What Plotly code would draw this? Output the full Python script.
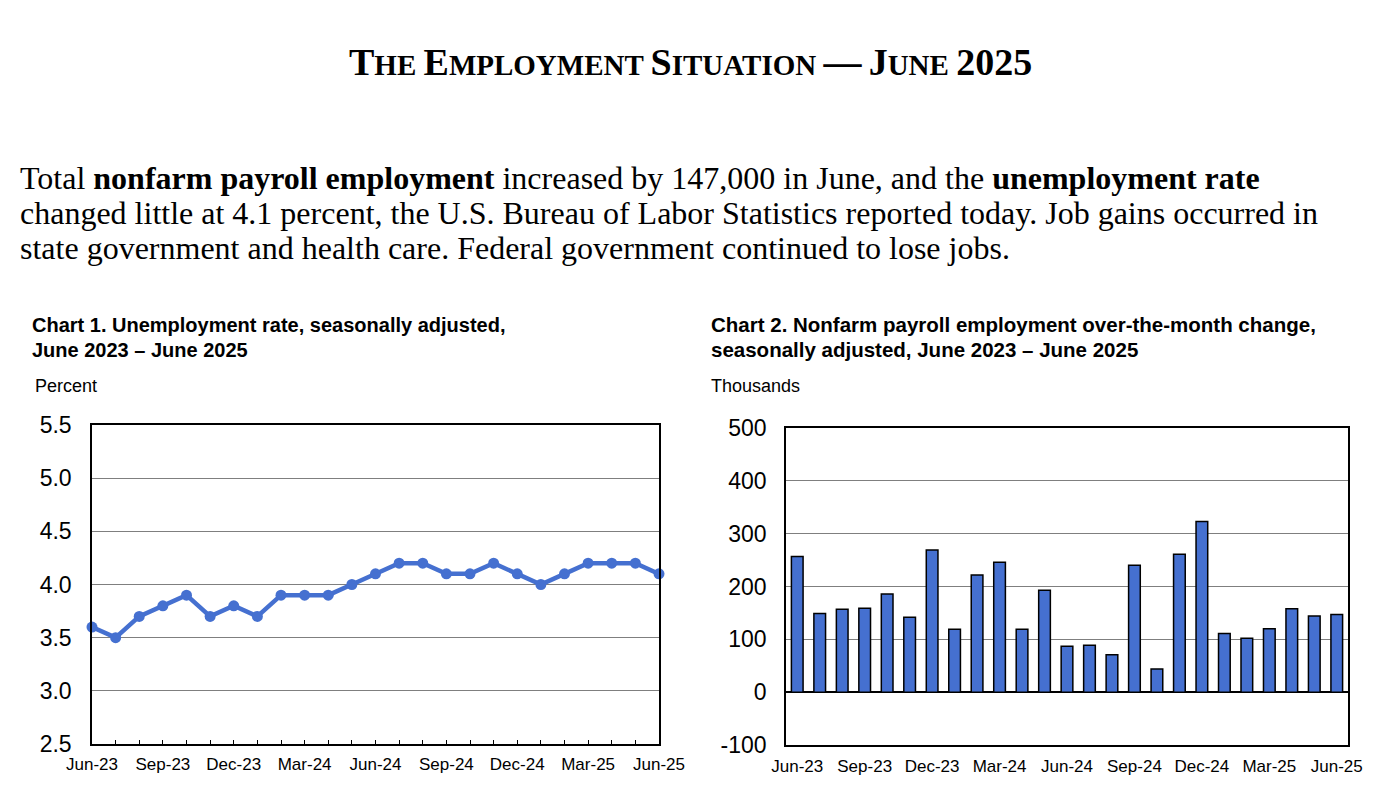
import plotly.graph_objects as go

months = ["Jun-23", "Jul-23", "Aug-23", "Sep-23", "Oct-23", "Nov-23", "Dec-23",
          "Jan-24", "Feb-24", "Mar-24", "Apr-24", "May-24", "Jun-24", "Jul-24",
          "Aug-24", "Sep-24", "Oct-24", "Nov-24", "Dec-24", "Jan-25", "Feb-25",
          "Mar-25", "Apr-25", "May-25", "Jun-25"]
unemployment_rate = [3.6, 3.5, 3.7, 3.8, 3.9, 3.7, 3.8, 3.7, 3.9, 3.9, 3.9, 4.0, 4.1,
                     4.2, 4.2, 4.1, 4.1, 4.2, 4.1, 4.0, 4.1, 4.2, 4.2, 4.2, 4.1]
payroll_change = [257, 149, 157, 159, 186, 142, 269, 119, 222, 246, 119, 193, 87,
                  89, 71, 240, 44, 261, 323, 111, 102, 120, 158, 144, 147]
tick_labels = [m if i % 3 == 0 else "" for i, m in enumerate(months)]
label_months = [m for i, m in enumerate(months) if i % 3 == 0]
rate_ticks = [2.5, 3.0, 3.5, 4.0, 4.5, 5.0, 5.5]
rate_tick_text = ["2.5", "3.0", "3.5", "4.0", "4.5", "5.0", "5.5"]
payroll_ticks = [-100, 0, 100, 200, 300, 400, 500]
payroll_tick_text = ["-100", "0", "100", "200", "300", "400", "500"]

BLUE = "#4570D0"
SANS = "Liberation Sans, Arial, sans-serif"
SERIF = "Liberation Serif, Times New Roman, serif"

fig = go.Figure()

fig.add_trace(go.Scatter(
    x=months, y=unemployment_rate, mode="lines+markers",
    line=dict(color=BLUE, width=4.5), marker=dict(color=BLUE, size=11),
    cliponaxis=False, xaxis="x", yaxis="y", showlegend=False))

fig.add_trace(go.Bar(
    x=months, y=payroll_change, marker=dict(color=BLUE, line=dict(color="black", width=1.5)),
    xaxis="x2", yaxis="y2", showlegend=False))

W, H = 1400, 808
def px_x(a, b):
    return [a / W, b / W]
def px_y(top, bottom):
    return [1 - bottom / H, 1 - top / H]

common = dict(automargin=False)
XT = dict(family=SANS, size=17, color="black")
YT = dict(family=SANS, size=23, color="black")
fig.update_layout(
    width=W, height=H,
    margin=dict(l=0, r=0, t=0, b=0, pad=0, autoexpand=False),
    paper_bgcolor="white", plot_bgcolor="white",
    bargap=0.48,
    xaxis=dict(domain=px_x(92, 659), type="category", range=[0, 24],
               tickvals=months, ticktext=tick_labels, ticks="inside", ticklen=4,
               tickcolor="black", showline=True, linecolor="black", linewidth=1.5,
               mirror=True, showgrid=False, tickfont=XT, ticklabelstandoff=4,
               anchor="y", **common),
    yaxis=dict(domain=px_y(425, 744), range=[2.5, 5.5], tickvals=rate_ticks,
               ticktext=rate_tick_text,
               showline=True, linecolor="black", linewidth=1.5, mirror=True,
               showgrid=True, gridcolor="#7f7f7f", gridwidth=1, zeroline=False,
               ticks="", ticklabelstandoff=14, tickfont=YT, anchor="x", **common),
    xaxis2=dict(domain=px_x(786, 1348), type="category", range=[-0.5, 24.5],
                tickvals=label_months, ticktext=label_months, ticks="",
                showline=True, linecolor="black", linewidth=1.5, mirror=True,
                showgrid=False, tickfont=XT, ticklabelstandoff=5,
                anchor="y2", **common),
    yaxis2=dict(domain=px_y(428, 745), range=[-100, 500], tickvals=payroll_ticks,
                ticktext=payroll_tick_text,
                showline=True, linecolor="black", linewidth=1.5, mirror=True,
                showgrid=True, gridcolor="#7f7f7f", gridwidth=1,
                zeroline=True, zerolinecolor="black", zerolinewidth=1.5,
                ticks="", ticklabelstandoff=13, tickfont=YT, anchor="x2", **common),
)

def ann(text, x, y, size, family, xanchor="left"):
    fig.add_annotation(text=text, x=x / W, y=1 - y / H, xref="paper", yref="paper",
                       xanchor=xanchor, yanchor="middle", showarrow=False,
                       font=dict(family=family, size=size, color="black"), align="left")

big, small = 38, 29
def sc(word):
    return f"<span style='font-size:{big}px'>{word[0]}</span>{word[1:]}"
title = "<b>" + " ".join(sc(w) for w in ["THE", "EMPLOYMENT", "SITUATION"]) + \
        f" <span style='font-size:{big}px'>—</span> " + sc("JUNE") + \
        f" <span style='font-size:{big}px'>2025</span></b>"
ann(title, 690, 62, small, SERIF, xanchor="center")

ann("Total <b>nonfarm payroll employment</b> increased by 147,000 in June, and the <b>unemployment rate</b>",
    18, 178, 32, SERIF)
ann("changed little at 4.1 percent, the U.S. Bureau of Labor Statistics reported today. Job gains occurred in",
    18, 213, 32, SERIF)
ann("state government and health care. Federal government continued to lose jobs.",
    18, 248, 32, SERIF)

ann("<b>Chart 1. Unemployment rate, seasonally adjusted,</b>", 30, 325, 20, SANS)
ann("<b>June 2023 – June 2025</b>", 30, 350, 20, SANS)
ann("Percent", 33, 386, 18, SANS)

ann("<b>Chart 2. Nonfarm payroll employment over-the-month change,</b>", 709, 324, 20.5, SANS)
ann("<b>seasonally adjusted, June 2023 – June 2025</b>", 709, 349, 20.5, SANS)
ann("Thousands", 709, 386, 18, SANS)

fig.write_html("out.html", config={"displayModeBar": False},
               post_script="document.body.style.margin='0';document.body.style.overflow='hidden';")
